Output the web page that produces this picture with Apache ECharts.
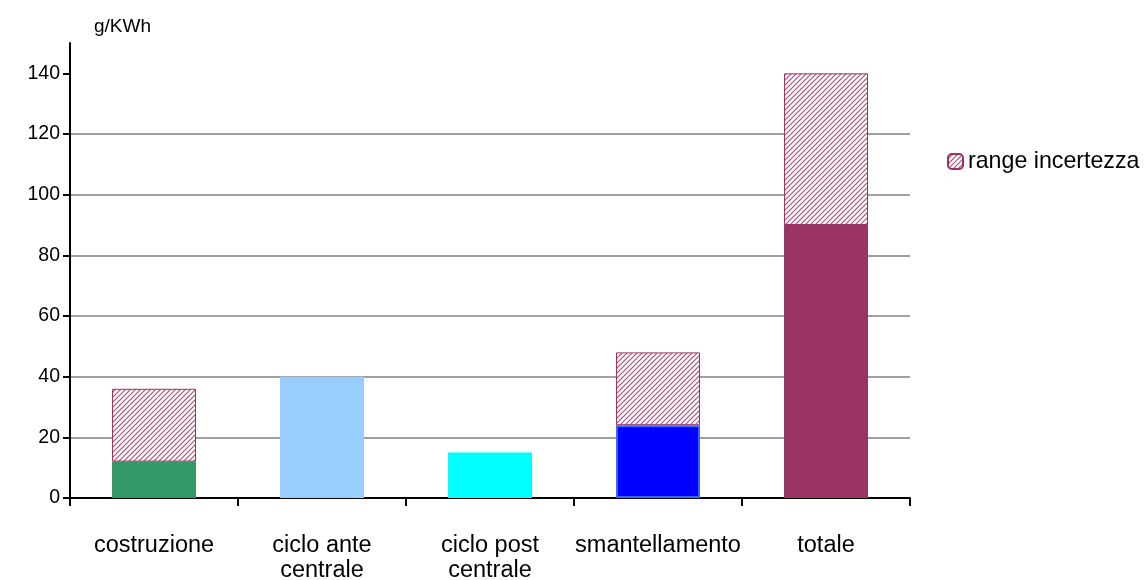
<!DOCTYPE html>
<html>
<head>
<meta charset="utf-8">
<script src="https://cdn.jsdelivr.net/npm/echarts@6/dist/echarts.min.js"></script>
<style>
  html, body { margin: 0; padding: 0; background: #fff; }
  #chart { width: 1145px; height: 580px; }
</style>
</head>
<body>
<div id="chart"></div>
<script>
  // dati
  const categories = ['costruzione', 'ciclo ante\ncentrale', 'ciclo post\ncentrale', 'smantellamento', 'totale'];
  const baseValues = [12, 40, 15, 24, 90];
  const rangeValues = [24, '-', '-', 24, 50];
  const barColors = ['#339966', '#99CCFF', '#00FFFF', '#0000FF', '#993366'];
  const yTicks = [0, 20, 40, 60, 80, 100, 120, 140];

  // tratteggio diagonale per il range
  function hatch() {
    const s = 5;
    const c = document.createElement('canvas');
    c.width = s; c.height = s;
    const ctx = c.getContext('2d');
    ctx.fillStyle = '#fff';
    ctx.fillRect(0, 0, s, s);
    ctx.strokeStyle = '#A8507C';
    ctx.lineWidth = 1.2;
    ctx.beginPath();
    ctx.moveTo(0, s); ctx.lineTo(s, 0);
    ctx.moveTo(-1, 1); ctx.lineTo(1, -1);
    ctx.moveTo(s - 1, s + 1); ctx.lineTo(s + 1, s - 1);
    ctx.stroke();
    return c;
  }
  const pattern = { image: hatch(), repeat: 'repeat' };

  const chart = echarts.init(document.getElementById('chart'));
  chart.setOption({
    animation: false,
    textStyle: { fontFamily: '"Liberation Sans", Arial, sans-serif', color: '#000' },
    title: {
      text: 'g/KWh',
      left: 89,
      top: 12,
      textStyle: { fontSize: 19, fontWeight: 'normal', color: '#000', fontFamily: '"Liberation Sans", Arial, sans-serif' }
    },
    legend: {
      data: ['range incertezza'],
      left: 942,
      top: 145,
      itemWidth: 15,
      itemHeight: 15,
      itemGap: 4,
      textStyle: { fontSize: 23.2, color: '#000' }
    },
    grid: { left: 70, right: 235, top: 43, bottom: 82, containLabel: false, outerBoundsMode: 'none' },
    xAxis: {
      type: 'category',
      data: categories,
      axisLine: { lineStyle: { color: '#000', width: 2 } },
      axisTick: { show: true, length: 8, lineStyle: { color: '#000', width: 2 } },
      axisLabel: { fontSize: 23.5, color: '#000', margin: 35, lineHeight: 25, interval: 0 }
    },
    yAxis: {
      type: 'value',
      min: 0,
      max: 150,
      interval: 20,
      axisLine: { show: true, lineStyle: { color: '#000', width: 2 } },
      axisTick: { show: true, length: 7, customValues: yTicks, lineStyle: { color: '#000', width: 2 } },
      axisLabel: { fontSize: 19.5, color: '#000', margin: 10, customValues: yTicks },
      splitLine: { show: true, showMaxLine: false, lineStyle: { color: '#A0A0A0', width: 2 } }
    },
    series: [
      {
        name: 'base',
        type: 'bar',
        stack: 'tot',
        barWidth: '50%',
        data: baseValues.map((v, i) => ({
          value: v,
          itemStyle: {
            color: barColors[i],
            borderColor: i === 3 ? '#3366FF' : barColors[i],
            borderWidth: i === 3 ? 2 : 0
          }
        }))
      },
      {
        name: 'range incertezza',
        type: 'bar',
        stack: 'tot',
        barWidth: '50%',
        itemStyle: { color: pattern, borderColor: '#993366', borderWidth: 1 },
        data: rangeValues
      }
    ]
  });
</script>
</body>
</html>
